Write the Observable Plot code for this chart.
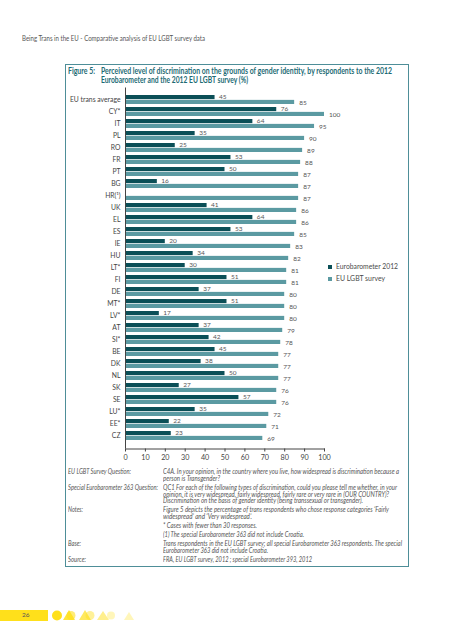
<!DOCTYPE html>
<html>
<head>
<meta charset="utf-8">
<script src="https://cdn.jsdelivr.net/npm/d3@7"></script>
<script src="https://cdn.jsdelivr.net/npm/@observablehq/plot@0.6"></script>
<style>
  html, body { margin: 0; padding: 0; background: #fff; }
  body { width: 453px; height: 640px; position: relative; overflow: hidden; font-family: Lato, "Liberation Sans", sans-serif; color: #4a4a4a; }
  .t { position: absolute; white-space: nowrap; transform-origin: left center; }
  .fn { font-style: italic; font-size: 7px; color: #555; }
  #box { position: absolute; left: 65px; top: 64px; width: 342px; height: 501px; border: 1.6px solid #4e8e98; }
  #chart { position: absolute; left: 65px; top: 80px; line-height: 0; }
  .lg { position: absolute; width: 4px; height: 4px; }
</style>
</head>
<body>
<div class="t" data-x="22" data-y="38" data-w="183" style="font-size:8px;color:#555">Being Trans in the EU - Comparative analysis of EU LGBT survey data</div>
<div id="box"></div>
<div class="t" data-x="68" data-y="71.5" data-w="27" style="font-size:8.5px;font-weight:bold;color:#1d6b74">Figure 5:</div>
<div class="t" data-x="101" data-y="71.5" data-w="291" style="font-size:8.5px;font-weight:bold;color:#1d6b74">Perceived level of discrimination on the grounds of gender identity, by respondents to the 2012</div>
<div class="t" data-x="101" data-y="80.5" data-w="147" style="font-size:8.5px;font-weight:bold;color:#1d6b74">Eurobarometer and the 2012 EU LGBT survey (%)</div>
<div id="chart"></div>
<div class="lg" style="left:328px;top:264.5px;background:#0b4f57"></div>
<div class="t" data-x="336" data-y="266.5" data-w="62" style="font-size:8px;color:#4a4a4a">Eurobarometer 2012</div>
<div class="lg" style="left:328px;top:276.5px;background:#5b9aa2"></div>
<div class="t" data-x="336" data-y="278.5" data-w="49" style="font-size:8px;color:#4a4a4a">EU LGBT survey</div>

<div class="t fn" data-x="68" data-y="472" data-w="63">EU LGBT Survey Question:</div>
<div class="t fn" data-x="163" data-y="472" data-w="236">C4A. In your opinion, in the country where you live, how widespread is discrimination because a</div>
<div class="t fn" data-x="163" data-y="478.5" data-w="57">person is Transgender?</div>
<div class="t fn" data-x="68" data-y="487.7" data-w="90">Special Eurobarometer 363 Question:</div>
<div class="t fn" data-x="163" data-y="487.7" data-w="234">QC1 For each of the following types of discrimination, could you please tell me whether, in your</div>
<div class="t fn" data-x="163" data-y="494.3" data-w="226">opinion, it is very widespread, fairly widespread, fairly rare or very rare in (OUR COUNTRY)?</div>
<div class="t fn" data-x="163" data-y="501" data-w="200">Discrimination on the basis of gender identity (being transsexual or transgender).</div>
<div class="t fn" data-x="68" data-y="510" data-w="15">Notes:</div>
<div class="t fn" data-x="163" data-y="510" data-w="226">Figure 5 depicts the percentage of trans respondents who chose response categories ‘Fairly</div>
<div class="t fn" data-x="163" data-y="517" data-w="89">widespread’ and ‘Very widespread’.</div>
<div class="t fn" data-x="163" data-y="525.7" data-w="94">* Cases with fewer than 30 responses.</div>
<div class="t fn" data-x="163" data-y="534.3" data-w="141">(1) The special Eurobarometer 363 did not include Croatia.</div>
<div class="t fn" data-x="68" data-y="543.3" data-w="13">Base:</div>
<div class="t fn" data-x="163" data-y="543.3" data-w="239">Trans respondents in the EU LGBT survey; all special Eurobarometer 363 respondents. The special</div>
<div class="t fn" data-x="163" data-y="550.7" data-w="105">Eurobarometer 363 did not include Croatia.</div>
<div class="t fn" data-x="68" data-y="560" data-w="18">Source:</div>
<div class="t fn" data-x="163" data-y="560" data-w="149">FRA, EU LGBT survey, 2012 ; special Eurobarometer 393, 2012</div>

<div style="position:absolute;left:0;top:610px;width:48px;height:11px;background:#ffe01b"></div>
<div class="t" data-x="22" data-y="615.5" style="font-size:6.5px;color:#555">26</div>
<svg style="position:absolute;left:50px;top:608px" width="100" height="15">
  <circle cx="7" cy="7.5" r="5" fill="#ffe01b"/>
  <path d="M13 12 L19 2 L25 12 Z" fill="#ffe01b" opacity="0.85"/>
  <circle cx="21" cy="7.5" r="4.5" fill="#ffe01b" opacity="0.6"/>
  <path d="M29 12 L35 2 L41 12 Z" fill="#ffe01b" opacity="0.7"/>
  <circle cx="40" cy="7.5" r="4.5" fill="#ffe01b" opacity="0.45"/>
  <path d="M47 12 L53 3 L59 12 Z" fill="#ffe01b" opacity="0.5"/>
  <circle cx="61" cy="7.5" r="4" fill="#ffe01b" opacity="0.3"/>
  <path d="M74 12 L79 4 L84 12 Z" fill="#ffe01b" opacity="0.3"/>
</svg>

<script>
// ---- data ----
const categories = ["EU trans average","CY*","IT","PL","RO","FR","PT","BG","HR(¹)","UK","EL","ES","IE","HU","LT*","FI","DE","MT*","LV*","AT","SI*","BE","DK","NL","SK","SE","LU*","EE*","CZ"];
const eurobarometer2012 = [45,76,64,35,25,53,50,16,null,41,64,53,20,34,30,51,37,51,17,37,42,45,38,50,27,57,35,22,23];
const euLgbtSurvey = [85,100,95,90,89,88,87,87,87,86,86,85,83,82,81,81,80,80,80,79,78,77,77,77,76,76,72,71,69];
const xTicks = [0,10,20,30,40,50,60,70,80,90,100];

const darkColor = "#0b4f57";
const lightColor = "#5b9aa2";

const rows = categories.map((cat, i) => ({cat, euro: eurobarometer2012[i], lgbt: euLgbtSurvey[i]}));
const euroRows = rows.filter(d => d.euro != null);

const W = 345, H = 391, mT = 7.5, mB = 22.5, mL = 60, mR = 86;
const pIn = 0.22, pOut = 0.05;
const step = (H - mT - mB) / (categories.length - pIn + 2 * pOut);
const bw = step * (1 - pIn);

const chart = Plot.plot({
  width: W, height: H,
  marginTop: mT, marginBottom: mB, marginLeft: mL, marginRight: mR,
  style: {fontFamily: "Lato, 'Liberation Sans', sans-serif", fontSize: "7px", color: "#444", background: "transparent"},
  x: {domain: [0, 100], ticks: xTicks, label: null},
  y: {domain: categories, paddingInner: pIn, paddingOuter: pOut, label: null},
  marks: [
    Plot.barX(rows, {x: "lgbt", y: "cat", fill: lightColor, insetTop: bw / 2}),
    Plot.barX(euroRows, {x: "euro", y: "cat", fill: darkColor, insetBottom: bw / 2}),
    Plot.text(euroRows, {x: "euro", y: "cat", text: d => String(d.euro), dx: 4, dy: -3.2, textAnchor: "start", fill: "#555", fontSize: 6.5}),
    Plot.text(rows, {x: "lgbt", y: "cat", text: d => String(d.lgbt), dx: 4.5, dy: 2.8, textAnchor: "start", fill: "#555", fontSize: 6.5}),
    Plot.ruleX([0], {stroke: "#444", strokeWidth: 1}),
    Plot.frame({anchor: "bottom", stroke: "#444", strokeWidth: 1}),
    Plot.axisY({tickSize: 0, tickPadding: 5, fontSize: 6.8, fill: "#444"}),
    Plot.axisX({ticks: xTicks, tickSize: 3, tickPadding: 3, fontSize: 7.2, fill: "#444", stroke: "#444"})
  ]
});
document.getElementById("chart").appendChild(chart);

function place() {
  document.querySelectorAll(".t").forEach(el => {
    const x = +el.dataset.x, y = +el.dataset.y;
    const fs = parseFloat(getComputedStyle(el).fontSize);
    const h = Math.round(fs * 1.3 * 10) / 10;
    el.style.left = x + "px";
    el.style.top = (y - h / 2) + "px";
    el.style.lineHeight = h + "px";
    el.style.height = h + "px";
    if (el.dataset.w) {
      el.style.transform = "none";
      const w = el.getBoundingClientRect().width;
      if (w > 0) el.style.transform = "scaleX(" + (+el.dataset.w / w) + ")";
    }
  });
}
place();
if (document.fonts && document.fonts.ready) document.fonts.ready.then(place);
</script>
</body>
</html>
